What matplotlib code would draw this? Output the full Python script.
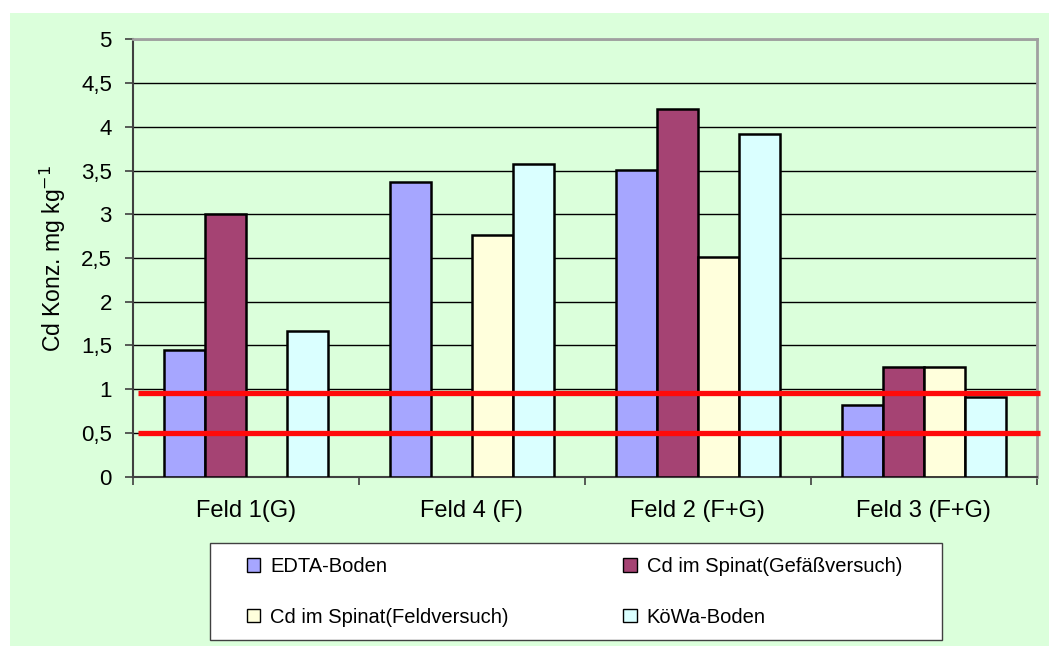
import matplotlib
matplotlib.use("Agg")
import matplotlib.pyplot as plt
import matplotlib.transforms as mtransforms
from matplotlib.patches import Rectangle, Patch
import numpy as np

plt.rcParams['font.family'] = ['Liberation Sans', 'DejaVu Sans']

# Data
categories = ["Feld 1(G)", "Feld 4 (F)", "Feld 2 (F+G)", "Feld 3 (F+G)"]
series_names = ["EDTA-Boden", "Cd im Spinat(Gefäßversuch)",
                "Cd im Spinat(Feldversuch)", "KöWa-Boden"]
edta_boden = [1.45, 3.37, 3.51, 0.82]
spinat_gefaess = [3.0, np.nan, 4.2, 1.25]
spinat_feld = [np.nan, 2.76, 2.51, 1.25]
koewa_boden = [1.66, 3.58, 3.92, 0.91]
thresholds = [0.96, 0.5]
y_ticks = [0, 0.5, 1, 1.5, 2, 2.5, 3, 3.5, 4, 4.5, 5]
y_tick_labels = ["0", "0,5", "1", "1,5", "2", "2,5", "3", "3,5", "4", "4,5", "5"]

series = [edta_boden, spinat_gefaess, spinat_feld, koewa_boden]
colors = ["#A6A6FF", "#A54373", "#FFFFDC", "#DAFFFF"]
bg = "#DBFFDB"

W, H = 1049, 646
fig = plt.figure(figsize=(W / 100, H / 100), dpi=100)
fig.patch.set_facecolor("white")


def fx(px):
    return px / W


def fy(py):
    return 1 - py / H


# green chart area with white margin at top/left
fig.patches.append(Rectangle((fx(10), 0), 1 - fx(10), fy(13),
                             transform=fig.transFigure, facecolor=bg,
                             edgecolor="none", zorder=-10))

ax = fig.add_axes([fx(133), fy(476.7), fx(1036.7 - 133), (476.7 - 39.3) / H])
ax.set_facecolor(bg)

n = len(series)
gap = 1.5
w = 1.0 / (n + gap)
x = np.arange(len(categories))
for i, (vals, c) in enumerate(zip(series, colors)):
    offs = (i - (n - 1) / 2) * w
    ax.bar(x + offs, vals, width=w, color=c, edgecolor="black",
           linewidth=1.8, zorder=3, label=series_names[i])

ax.set_xlim(-0.5, len(categories) - 0.5)
ax.set_ylim(0, 5)
ax.set_yticks(y_ticks)
ax.set_yticklabels(y_tick_labels, fontsize=16)
ax.yaxis.grid(True, color="black", linewidth=1.0, zorder=1)
ax.set_axisbelow(True)

ax.set_xticks(np.arange(len(categories) + 1) - 0.5)
ax.set_xticklabels([])
ax.set_xticks(x, minor=True)
ax.set_xticklabels(categories, minor=True, fontsize=17)
ax.tick_params(axis="x", which="minor", length=0, pad=16.5)
ax.tick_params(axis="x", which="major", length=5.5, width=1.2, color="#404040",
               direction="out")
ax.tick_params(axis="y", length=5.8, width=1.2, color="#404040", pad=9.4)

for side in ["top", "right"]:
    ax.spines[side].set_color("#A0A0A0")
    ax.spines[side].set_linewidth(2)
for side in ["left", "bottom"]:
    ax.spines[side].set_color("#404040")
    ax.spines[side].set_linewidth(1.5)

ax.set_ylabel("Cd Konz. mg kg$^{-1}$", fontsize=16.5, labelpad=9)

# Threshold lines spanning the plot width
trans = mtransforms.blended_transform_factory(ax.transAxes, ax.transData)
for t in thresholds:
    ax.plot([0.0055, 1.0035], [t, t], color="#FF0A0A", linewidth=3.8,
            transform=trans, clip_on=False, zorder=5, solid_capstyle="butt")

# legend box
fig.patches.append(Rectangle((fx(210), fy(640)), fx(941.7 - 210), (640 - 542.5) / H,
                             transform=fig.transFigure, facecolor="white",
                             edgecolor="#404040", linewidth=1.0, zorder=-5))

# legend laid out row-wise: two entries per row
order = [0, 2, 1, 3]
handles = [Patch(facecolor=colors[i], edgecolor="black", linewidth=1.0) for i in order]
labels = [series_names[i] for i in order]
leg = fig.legend(handles, labels, loc="center left",
                 bbox_to_anchor=(fx(247), fy(592)),
                 ncol=2, fontsize=14.5, frameon=False,
                 handlelength=0.65, handleheight=0.65, handletextpad=0.5,
                 columnspacing=5.7, labelspacing=1.56,
                 borderpad=0, borderaxespad=0)

fig.savefig("out.png", dpi=100, facecolor=fig.get_facecolor())
